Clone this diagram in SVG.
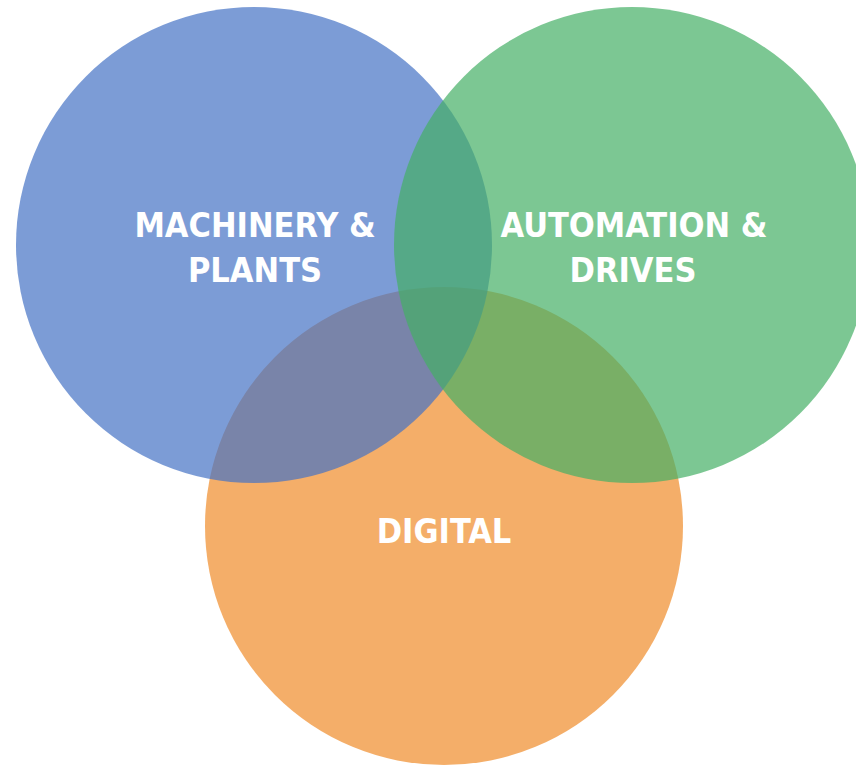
<svg xmlns="http://www.w3.org/2000/svg" width="856" height="765" viewBox="0 0 856 765">
  <style>
    .c { fill-opacity: 0.7; }
    .t { font-family: "DejaVu Sans Condensed", "DejaVu Sans", sans-serif; font-weight: bold; font-size: 34px; fill: #ffffff; text-anchor: middle; }
  </style>
  <rect width="856" height="765" fill="#ffffff"/>
  <g id="digital">
    <circle class="c" cx="444" cy="526" r="239" fill="#EF8B2A"/>
  </g>
  <g id="machinery">
    <circle class="c" cx="254" cy="245" r="238" fill="#4472C4"/>
  </g>
  <g id="automation">
    <circle class="c" cx="632" cy="245" r="238" fill="#44AF65"/>
  </g>
  <g id="labels">
    <text class="t" x="255" y="237">MACHINERY &amp;</text>
    <text class="t" x="255" y="282">PLANTS</text>
    <text class="t" x="634" y="237">AUTOMATION &amp;</text>
    <text class="t" x="633" y="282">DRIVES</text>
    <text class="t" x="444" y="543">DIGITAL</text>
  </g>
  <g id="connectors"/>
</svg>
